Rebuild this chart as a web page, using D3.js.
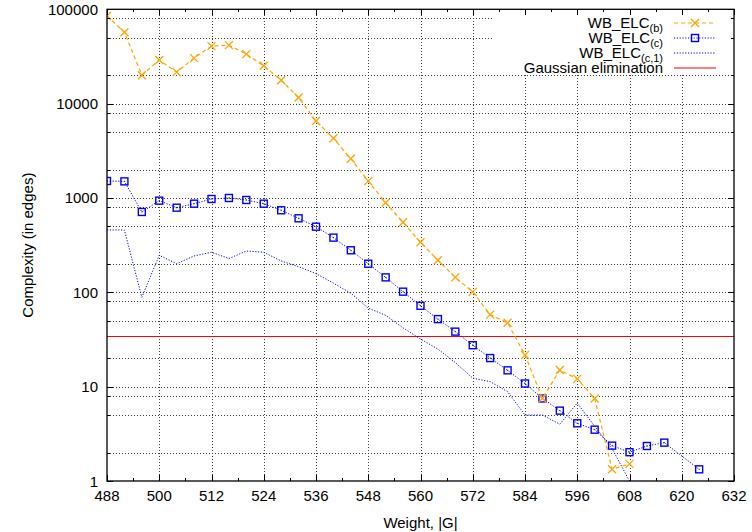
<!DOCTYPE html>
<html><head><meta charset="utf-8">
<script src="https://cdn.jsdelivr.net/npm/d3@7"></script>
<style>
body{margin:0;background:#fff}
svg{display:block}
text{font-family:"Liberation Sans",Arial,Helvetica,sans-serif;fill:#000}
</style>
</head><body>
<svg id="chart" width="752" height="532"></svg>
<script>
// ---- data ----
const weightsB = [488,492,496,500,504,508,512,516,520,524,528,532,536,540,544,548,552,556,560,564,568,572,576,580,584,588,592,596,600,604,608];
const elcB     = [85000,57000,20000,29000,21600,30400,40700,41700,33500,25200,17700,11600,6550,4290,2610,1510,890,552,339,219,144,101,58,47.5,21.7,7.5,15,12.1,7.5,1.33,1.52];

const weightsC = [488,492,496,500,504,508,512,516,520,524,528,532,536,540,544,548,552,556,560,564,568,572,576,580,584,588,592,596,600,604,608,612,616,624];
const elcC     = [1514,1500,711,937,789,870,976,1000,952,870,741,609,496,380,279,201,144,101.6,72,52,38.3,27.5,20.1,14.9,10.8,7.5,5.57,4.09,3.5,2.37,2.02,2.35,2.55,1.33];

const weightsC1 = [488,492,496,500,504,508,512,516,520,524,528,532,536,540,544,548,552,556,560,564,568,572,576,580,584,588,592,596,600,604,608];
const elcC1     = [458,458,88.5,247,201,243,266,228,274,266,215,187,158,125,98,68,57,42,32,25,18,12.3,11.3,8.85,5.0,5.0,4.0,6.7,3.8,2.2,1.0];

const gaussian = 34;

const xTicks = [488,500,512,524,536,548,560,572,584,596,608,620,632];
const xMinorTicks = [494,506,518,530,542,554,566,578,590,602,614,626];
const yTicks = [1,10,100,1000,10000,100000];
const yTickLabels = ["1","10","100","1000","10000","100000"];
const yMinorTicks = [2,5,8,20,50,80,200,500,800,2000,5000,8000,20000,50000,80000];

const legendLabels = [
  {main:"WB_ELC", sub:"(b)"},
  {main:"WB_ELC", sub:"(c)"},
  {main:"WB_ELC", sub:"(c,1)"},
  {main:"Gaussian elimination", sub:""}
];

// ---- layout ----
const L = 107, R = 734, T = 9.3, B = 481;
const svg = d3.select("#chart");
const x = d3.scaleLinear().domain([488,632]).range([L,R]);
const y = d3.scaleLog().domain([1,100000]).range([B,T]);

const orange = "#ffa500", blue = "#0000ff", red = "#ff0000";

// grid
const grid = svg.append("g").attr("stroke","#3a3a3a").attr("stroke-width",1).attr("stroke-dasharray","1,2").attr("shape-rendering","crispEdges");
xTicks.slice(1,-1).forEach(v=>{
  grid.append("line").attr("x1",Math.round(x(v))+0.5).attr("x2",Math.round(x(v))+0.5).attr("y1",T).attr("y2",B);
});
yTicks.slice(1,-1).concat(yMinorTicks).forEach(v=>{
  grid.append("line").attr("x1",L).attr("x2",R).attr("y1",Math.round(y(v))+0.5).attr("y2",Math.round(y(v))+0.5);
});

// legend background (covers grid)
svg.append("rect").attr("x",493).attr("y",T+1).attr("width",R-493-1).attr("height",64).attr("fill","#fff");

const clip = svg.append("clipPath").attr("id","clip").append("rect").attr("x",L).attr("y",T).attr("width",R-L).attr("height",B-T+1);
const plot = svg.append("g").attr("clip-path","url(#clip)");

// Gaussian line
plot.append("line").attr("x1",L).attr("x2",R).attr("y1",y(gaussian)).attr("y2",y(gaussian))
  .attr("stroke",red).attr("stroke-width",1.2);

const line = d3.line().x(d=>x(d[0])).y(d=>y(d[1]));

// WB_ELC(c,1)
plot.append("path").datum(weightsC1.map((w,i)=>[w,elcC1[i]])).attr("d",line)
  .attr("fill","none").attr("stroke",blue).attr("stroke-width",1).attr("stroke-dasharray","1.2,1.6");

// WB_ELC(c)
const dC = weightsC.map((w,i)=>[w,elcC[i]]);
plot.append("path").datum(dC).attr("d",line)
  .attr("fill","none").attr("stroke",blue).attr("stroke-width",1).attr("stroke-dasharray","1.2,1.6");
const sq = 7;
plot.selectAll(".sq").data(dC).join("rect").attr("class","sq")
  .attr("x",d=>x(d[0])-sq/2).attr("y",d=>y(d[1])-sq/2).attr("width",sq).attr("height",sq)
  .attr("fill","none").attr("stroke",blue).attr("stroke-width",1.4);
plot.selectAll(".sqd").data(dC).join("rect").attr("class","sqd")
  .attr("x",d=>x(d[0])-0.5).attr("y",d=>y(d[1])-0.5).attr("width",1).attr("height",1).attr("fill",blue);

// WB_ELC(b)
const dB = weightsB.map((w,i)=>[w,elcB[i]]);
plot.append("path").datum(dB).attr("d",line)
  .attr("fill","none").attr("stroke",orange).attr("stroke-width",1.2).attr("stroke-dasharray","4,3");
const cs = 4;
const crossPath = (cx,cy)=>`M${cx-cs},${cy-cs}L${cx+cs},${cy+cs}M${cx-cs},${cy+cs}L${cx+cs},${cy-cs}`;
plot.selectAll(".cr").data(dB).join("path").attr("class","cr")
  .attr("d",d=>crossPath(x(d[0]),y(d[1]))).attr("stroke",orange).attr("stroke-width",1.3).attr("fill","none");

// legend
const lg = svg.append("g");
const rowY = [23,38,53,68];
legendLabels.forEach((lab,i)=>{
  const t = lg.append("text").attr("x",663).attr("y",rowY[i]+5).attr("text-anchor","end").attr("font-size",15);
  t.append("tspan").text(lab.main);
  if(lab.sub){ t.append("tspan").attr("font-size",11).attr("dy",4).text(lab.sub); }
});
lg.append("line").attr("x1",674).attr("x2",716).attr("y1",rowY[0]).attr("y2",rowY[0]).attr("stroke",orange).attr("stroke-width",1.2).attr("stroke-dasharray","4,3");
lg.append("path").attr("d",crossPath(695,rowY[0])).attr("stroke",orange).attr("stroke-width",1.3);
lg.append("line").attr("x1",674).attr("x2",716).attr("y1",rowY[1]).attr("y2",rowY[1]).attr("stroke",blue).attr("stroke-dasharray","1.2,1.6");
lg.append("rect").attr("x",695-sq/2).attr("y",rowY[1]-sq/2).attr("width",sq).attr("height",sq).attr("fill","none").attr("stroke",blue).attr("stroke-width",1.4);
lg.append("line").attr("x1",674).attr("x2",716).attr("y1",rowY[2]).attr("y2",rowY[2]).attr("stroke",blue).attr("stroke-dasharray","1.2,1.6");
lg.append("line").attr("x1",674).attr("x2",716).attr("y1",rowY[3]).attr("y2",rowY[3]).attr("stroke",red).attr("stroke-width",1.2);

// axes ticks (inward) and frame
const ax = svg.append("g").attr("stroke","#000").attr("stroke-width",1).attr("shape-rendering","crispEdges");
const maj = 6, mnr = 3;
xTicks.forEach(v=>{ const px=Math.round(x(v))+0.5;
  ax.append("line").attr("x1",px).attr("x2",px).attr("y1",B).attr("y2",B-maj);
  ax.append("line").attr("x1",px).attr("x2",px).attr("y1",T).attr("y2",T+maj); });
xMinorTicks.forEach(v=>{ const px=Math.round(x(v))+0.5;
  ax.append("line").attr("x1",px).attr("x2",px).attr("y1",B).attr("y2",B-mnr);
  ax.append("line").attr("x1",px).attr("x2",px).attr("y1",T).attr("y2",T+mnr); });
yTicks.forEach(v=>{ const py=Math.round(y(v))+0.5;
  ax.append("line").attr("x1",L).attr("x2",L+maj).attr("y1",py).attr("y2",py);
  ax.append("line").attr("x1",R).attr("x2",R-maj).attr("y1",py).attr("y2",py); });
yMinorTicks.forEach(v=>{ const py=Math.round(y(v))+0.5;
  ax.append("line").attr("x1",L).attr("x2",L+mnr).attr("y1",py).attr("y2",py);
  ax.append("line").attr("x1",R).attr("x2",R-mnr).attr("y1",py).attr("y2",py); });
svg.append("rect").attr("x",L).attr("y",T).attr("width",R-L).attr("height",B-T)
  .attr("fill","none").attr("stroke","#000").attr("stroke-width",1.3);

// tick labels
svg.append("g").selectAll("text").data(xTicks).join("text")
  .attr("x",d=>x(d)).attr("y",B+19.5).attr("text-anchor","middle").attr("font-size",15).text(d=>d);
svg.append("g").selectAll("text").data(yTicks).join("text")
  .attr("x",L-9).attr("y",d=>y(d)+5.5).attr("text-anchor","end").attr("font-size",15).text((d,i)=>yTickLabels[i]);

// axis titles
svg.append("text").attr("x",(L+R)/2).attr("y",528).attr("text-anchor","middle").attr("font-size",15).text("Weight, |G|");
svg.append("text").attr("transform",`translate(33,${(T+B)/2}) rotate(-90)`).attr("text-anchor","middle").attr("font-size",15).text("Complexity (in edges)");
</script>
</body></html>
